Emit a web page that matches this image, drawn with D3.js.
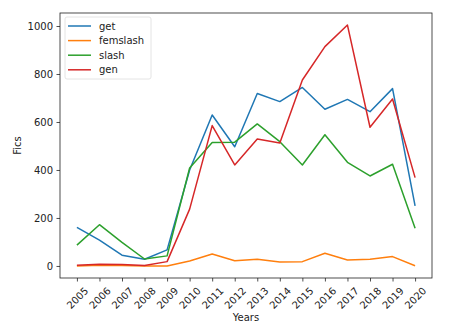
<!DOCTYPE html>
<html>
<head>
<meta charset="utf-8">
<script src="https://cdn.jsdelivr.net/npm/d3@7"></script>
<style>
  body { margin: 0; background: #fff; }
  text { font-family: "DejaVu Sans", sans-serif; fill: #222; }
</style>
</head>
<body>
<svg id="chart" width="461" height="326"></svg>
<script>
// Data
const years = [2005, 2006, 2007, 2008, 2009, 2010, 2011, 2012, 2013, 2014, 2015, 2016, 2017, 2018, 2019, 2020];
const get      = [161, 108, 45, 28, 67, 400, 629, 497, 719, 685, 744, 653, 694, 643, 739, 250];
const femslash = [0, 3, 2, 0, 0, 21, 50, 22, 28, 16, 18, 53, 25, 28, 39, 1];
const slash    = [87, 172, 98, 29, 42, 408, 514, 516, 592, 518, 421, 547, 432, 375, 424, 157];
const gen      = [3, 7, 6, 2, 18, 237, 585, 421, 529, 512, 775, 914, 1004, 578, 696, 368];
const seriesNames = ["get", "femslash", "slash", "gen"];
const yTicks = [0, 200, 400, 600, 800, 1000];

const series = [get, femslash, slash, gen];
const colors = ["#1f77b4", "#ff7f0e", "#2ca02c", "#d62728"];

const svg = d3.select("#chart");
const margin = {top: 13, right: 29, bottom: 48, left: 60},
    width = 461 - margin.left - margin.right,
    height = 326 - margin.top - margin.bottom;

const g = svg.append("g").attr("transform", `translate(${margin.left},${margin.top})`);

const allVals = series.flat();
const yMin = d3.min(allVals), yMax = d3.max(allVals);
const yPad = (yMax - yMin) * 0.05;
const xPad = (years[years.length - 1] - years[0]) * 0.05;

const x = d3.scaleLinear()
    .domain([years[0] - xPad, years[years.length - 1] + xPad])
    .range([0, width]);
const y = d3.scaleLinear()
    .domain([yMin - yPad, yMax + yPad])
    .range([height, 0]);

// axes
const xAxis = g.append("g")
    .attr("transform", `translate(0,${height})`)
    .call(d3.axisBottom(x).tickValues(years).tickFormat(d3.format("d")).tickSize(3.5).tickPadding(3.5).tickSizeOuter(0));
xAxis.selectAll("text")
    .style("font-size", "10px")
    .attr("text-anchor", "middle")
    .attr("dy", null)
    .attr("y", 0)
    .attr("transform", "translate(0,20) rotate(-45)")
    .attr("dominant-baseline", "central");

const yAxis = g.append("g")
    .call(d3.axisLeft(y).tickValues(yTicks).tickFormat(d3.format("d")).tickSize(3.5).tickPadding(3.5).tickSizeOuter(0));
yAxis.selectAll("text").style("font-size", "10px");

g.selectAll(".domain").remove();
g.selectAll(".tick line").attr("stroke", "#222").attr("stroke-width", 0.8);

// frame
g.append("rect")
    .attr("width", width).attr("height", height)
    .attr("fill", "none").attr("stroke", "#222").attr("stroke-width", 0.8);

// lines
const line = d3.line()
    .x((d, i) => x(years[i]))
    .y(d => y(d));

g.selectAll(".series")
    .data(series)
    .join("path")
    .attr("class", "series")
    .attr("fill", "none")
    .attr("stroke", (d, i) => colors[i])
    .attr("stroke-width", 1.5)
    .attr("stroke-linejoin", "round")
    .attr("d", d => line(d));

// labels
svg.append("text")
    .attr("x", margin.left + width / 2)
    .attr("y", 321)
    .attr("text-anchor", "middle")
    .style("font-size", "10px")
    .text("Years");

svg.append("text")
    .attr("transform", `translate(21,${margin.top + height / 2}) rotate(-90)`)
    .attr("text-anchor", "middle")
    .style("font-size", "10px")
    .text("Fics");

// legend
const legend = g.append("g").attr("transform", "translate(5,4)");
legend.append("rect")
    .attr("width", 86).attr("height", 62)
    .attr("rx", 2)
    .attr("fill", "#fff").attr("fill-opacity", 0.8)
    .attr("stroke", "#ddd").attr("stroke-width", 0.8);

const items = legend.selectAll(".item")
    .data(seriesNames)
    .join("g")
    .attr("class", "item")
    .attr("transform", (d, i) => `translate(0,${9 + i * 14.6})`);
items.append("line")
    .attr("x1", 3).attr("x2", 26)
    .attr("stroke", (d, i) => colors[i])
    .attr("stroke-width", 1.5);
items.append("text")
    .attr("x", 34)
    .attr("dy", "0.35em")
    .style("font-size", "10px")
    .text(d => d);
</script>
</body>
</html>
